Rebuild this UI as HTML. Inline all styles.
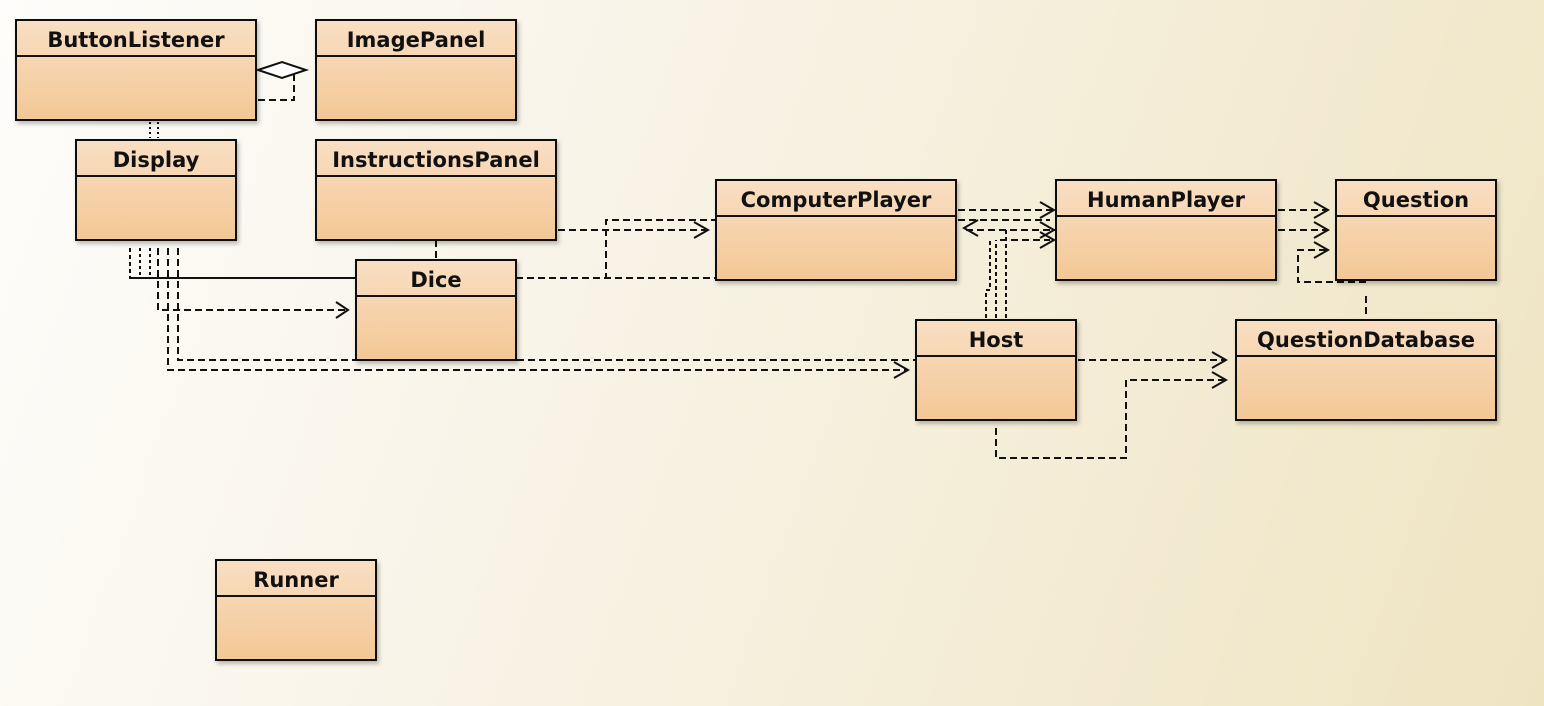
<!DOCTYPE html>
<html><head><meta charset="utf-8"><style>
html,body{margin:0;padding:0;width:1544px;height:706px;overflow:hidden}
body{background:linear-gradient(110deg,#fefdfb 0%,#f8f3e6 40%,#efe4c2 100%)}
text{font-family:"DejaVu Sans","Liberation Sans",sans-serif;font-weight:bold;font-size:21px;fill:#111}
</style></head><body>
<svg width="1544" height="706" xmlns="http://www.w3.org/2000/svg">
<defs>
<linearGradient id="g" x1="0" y1="0" x2="0" y2="1"><stop offset="0" stop-color="#f9dfc4"/><stop offset="1" stop-color="#f3c795"/></linearGradient>
<filter id="s" x="-10%" y="-10%" width="130%" height="130%"><feDropShadow dx="2" dy="3" stdDeviation="2" flood-color="#000" flood-opacity="0.25"/></filter>
</defs>
<g fill="none" stroke="#111" stroke-width="2" stroke-dasharray="7,4">
<path d="M258,100 H294 V70"/>
<path d="M150,122 V138 M158,122 V138" stroke-dasharray="2,3"/>
<path d="M130,248 V278 H356" stroke-dasharray="4,3"/>
<path d="M140,248 V278 M150,248 V278" stroke-dasharray="3,3"/>
<path d="M158,248 V310 H346"/>
<path d="M168,248 V370 H906"/>
<path d="M178,248 V360 H916"/>
<path d="M436,240 V260"/>
<path d="M558,230 H706"/>
<path d="M516,278 H606 V220 H716"/>
<path d="M516,278 H716"/>
<path d="M958,210 H1056"/>
<path d="M958,220 H1050"/>
<path d="M966,230 H1056"/>
<path d="M1000,240 H1050"/>
<path d="M986,318 V290 H990 V240 M996,318 V240 M1006,318 V230" stroke-dasharray="4,3"/>
<path d="M1278,210 H1326 M1278,230 H1326"/>
<path d="M1366,296 V318 M1366,282 H1298 V250 H1326"/>
<path d="M1078,360 H1226"/>
<path d="M996,428 V458 H1126 V380 H1226"/>
</g>
<g fill="none" stroke="#111" stroke-width="2">
<path d="M258,70 L282,62 L306,70 L282,78 Z" fill="#fff"/>
<path d="M336,302 L348,310 L336,318"/>
<path d="M694,222 L708,230 L694,238"/>
<path d="M1040,202 L1054,210 L1040,218"/>
<path d="M1040,222 L1054,230 L1040,238"/>
<path d="M1040,232 L1054,240 L1040,248"/>
<path d="M978,220 L964,228 L978,236"/>
<path d="M1314,202 L1328,210 L1314,218 M1314,222 L1328,230 L1314,238 M1314,242 L1328,250 L1314,258"/>
<path d="M894,362 L908,370 L894,378"/>
<path d="M1212,352 L1226,360 L1212,368 M1212,372 L1226,380 L1212,388"/>
<path d="M130,278 H356"/>
</g>
<g stroke="#111" stroke-width="2" fill="url(#g)" filter="url(#s)">
<rect x="16" y="20" width="240" height="100"/>
<rect x="316" y="20" width="200" height="100"/>
<rect x="76" y="140" width="160" height="100"/>
<rect x="316" y="140" width="240" height="100"/>
<rect x="356" y="260" width="160" height="100"/>
<rect x="716" y="180" width="240" height="100"/>
<rect x="1056" y="180" width="220" height="100"/>
<rect x="1336" y="180" width="160" height="100"/>
<rect x="916" y="320" width="160" height="100"/>
<rect x="1236" y="320" width="260" height="100"/>
<rect x="216" y="560" width="160" height="100"/>
</g>
<g stroke="#111" stroke-width="2">
<path d="M16,56 H256 M316,56 H516 M76,176 H236 M316,176 H556 M356,296 H516 M716,216 H956 M1056,216 H1276 M1336,216 H1496 M916,356 H1076 M1236,356 H1496 M216,596 H376"/>
</g>
<g text-anchor="middle">
<text x="136" y="47">ButtonListener</text>
<text x="416" y="47">ImagePanel</text>
<text x="156" y="167">Display</text>
<text x="436" y="167">InstructionsPanel</text>
<text x="436" y="287">Dice</text>
<text x="836" y="207">ComputerPlayer</text>
<text x="1166" y="207">HumanPlayer</text>
<text x="1416" y="207">Question</text>
<text x="996" y="347">Host</text>
<text x="1366" y="347">QuestionDatabase</text>
<text x="296" y="587">Runner</text>
</g>
</svg>
</body></html>
